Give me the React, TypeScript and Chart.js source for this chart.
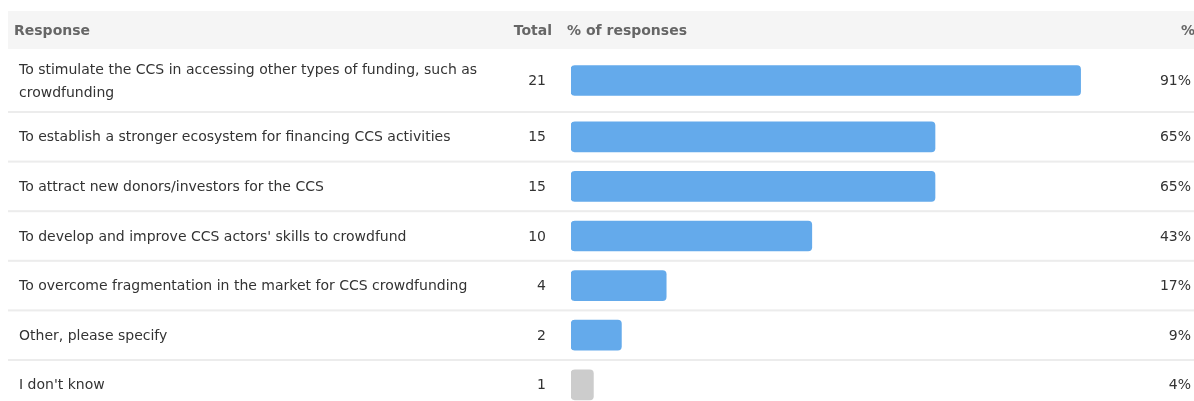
import React, { useEffect, useRef } from 'react';
import { Chart, registerables, CategoryScale } from 'chart.js';

// ---- data ----
const headerLabels = ['Response', 'Total', '% of responses', '%'];
const categories = [
  'To stimulate the CCS in accessing other types of funding, such as crowdfunding',
  'To establish a stronger ecosystem for financing CCS activities',
  'To attract new donors/investors for the CCS',
  "To develop and improve CCS actors' skills to crowdfund",
  'To overcome fragmentation in the market for CCS crowdfunding',
  'Other, please specify',
  "I don't know",
];
const totals = [21, 15, 15, 10, 4, 2, 1];
const percents = [91, 65, 65, 43, 17, 9, 4];
const barColors = ['#64aaeb', '#64aaeb', '#64aaeb', '#64aaeb', '#64aaeb', '#64aaeb', '#cccccc'];

// ---- layout / style ----
const W = 1194;
const H = 401;
const FONT = '"DejaVu Sans", Verdana, sans-serif';
const FONT_SIZE = 14;
const LINE_H = 23;
const ROW_PAD = 17;
const ROW_MIN = 49.6;
const TABLE_LEFT = 8;
const HEADER_TOP = 11;
const HEADER_BOTTOM = 49;
const LABEL_X = 19;
const LABEL_MAX_W = 480;
const TOTAL_RIGHT = 546;
const BAR_LEFT = 571;
const BAR_FULL_RIGHT = 1131;
const PCT_RIGHT = 1191;

function wrapLabel(text: string): string[] {
  const c = document.createElement('canvas').getContext('2d')!;
  c.font = `${FONT_SIZE}px ${FONT}`;
  const words = text.split(' ');
  const lines: string[] = [];
  let cur = '';
  for (const w of words) {
    const t = cur ? cur + ' ' + w : w;
    if (cur && c.measureText(t).width > LABEL_MAX_W) {
      lines.push(cur);
      cur = w;
    } else cur = t;
  }
  if (cur) lines.push(cur);
  return lines;
}

class TableRowScale extends (CategoryScale as any) {
  static id = 'tableRows';
  static defaults = (CategoryScale as any).defaults;
  rowHeights(): number[] {
    return this.getLabels().map((l: any) =>
      Math.max(ROW_MIN, (Array.isArray(l) ? l.length : 1) * LINE_H + ROW_PAD)
    );
  }
  rowTop(i: number): number {
    const h = this.rowHeights();
    let y = this.top;
    for (let k = 0; k < i; k++) y += h[k];
    return y;
  }
  getPixelForValue(value: any) {
    const i = typeof value === 'number' ? value : this.parse(value);
    if (i === null || i === undefined || isNaN(i)) return NaN;
    return this.rowTop(i) + this.rowHeights()[i] / 2;
  }
}

const tablePlugin = {
  id: 'tableDecor',
  beforeDatasetsDraw(chart: any) {
    const ctx: CanvasRenderingContext2D = chart.ctx;
    const ys: any = chart.scales.y;
    const labels: any[] = chart.data.labels;
    ctx.save();
    // header
    ctx.fillStyle = '#f5f5f5';
    ctx.fillRect(TABLE_LEFT, HEADER_TOP, W - TABLE_LEFT, HEADER_BOTTOM - HEADER_TOP);
    ctx.font = `bold ${FONT_SIZE}px ${FONT}`;
    ctx.fillStyle = '#666666';
    ctx.textBaseline = 'middle';
    const hy = (HEADER_TOP + HEADER_BOTTOM) / 2 + 1;
    ctx.textAlign = 'left';
    ctx.fillText(headerLabels[0], 14, hy);
    ctx.textAlign = 'right';
    ctx.fillText(headerLabels[1], 552, hy);
    ctx.textAlign = 'left';
    ctx.fillText(headerLabels[2], 567, hy);
    ctx.textAlign = 'right';
    ctx.fillText(headerLabels[3], W + 1, hy);

    // rows
    const heights: number[] = ys.rowHeights();
    ctx.font = `${FONT_SIZE}px ${FONT}`;
    labels.forEach((lab: any, i: number) => {
      const top = ys.rowTop(i);
      const h = heights[i];
      const cy = top + h / 2;
      const lines: string[] = Array.isArray(lab) ? lab : [lab];
      ctx.fillStyle = '#333333';
      ctx.textAlign = 'left';
      lines.forEach((ln, k) => {
        ctx.fillText(ln, LABEL_X, cy + (k - (lines.length - 1) / 2) * LINE_H + 1);
      });
      ctx.textAlign = 'right';
      ctx.fillText(String(totals[i]), TOTAL_RIGHT, cy + 1);
      ctx.fillText(percents[i] + '%', PCT_RIGHT, cy + 1);
      // separator
      ctx.fillStyle = '#ececec';
      ctx.fillRect(TABLE_LEFT, top + h - 1, W - TABLE_LEFT, 2);
    });
    ctx.restore();
  },
};

Chart.register(...registerables, TableRowScale as any);

export default function App() {
  const ref = useRef<HTMLCanvasElement | null>(null);
  useEffect(() => {
    if (!ref.current) return;
    const chart = new Chart(ref.current, {
      type: 'bar',
      data: {
        labels: categories.map(wrapLabel) as any,
        datasets: [
          {
            data: percents,
            backgroundColor: barColors,
            barThickness: 30,
            borderRadius: 4,
            borderSkipped: false,
          },
        ],
      },
      options: {
        indexAxis: 'y',
        animation: false,
        responsive: true,
        maintainAspectRatio: false,
        events: [],
        layout: {
          padding: { left: BAR_LEFT, right: W - BAR_FULL_RIGHT, top: HEADER_BOTTOM, bottom: 0 },
        },
        scales: {
          x: { type: 'linear', display: false, min: 0, max: 100 },
          y: { type: 'tableRows' as any, display: false },
        },
        plugins: {
          legend: { display: false },
          tooltip: { enabled: false },
          title: { display: false },
        },
      },
      plugins: [tablePlugin],
    });
    return () => chart.destroy();
  }, []);
  return (
    <div style={{ position: 'fixed', left: 0, top: 0, width: W, height: H, background: '#fff' }}>
      <canvas ref={ref} />
    </div>
  );
}
